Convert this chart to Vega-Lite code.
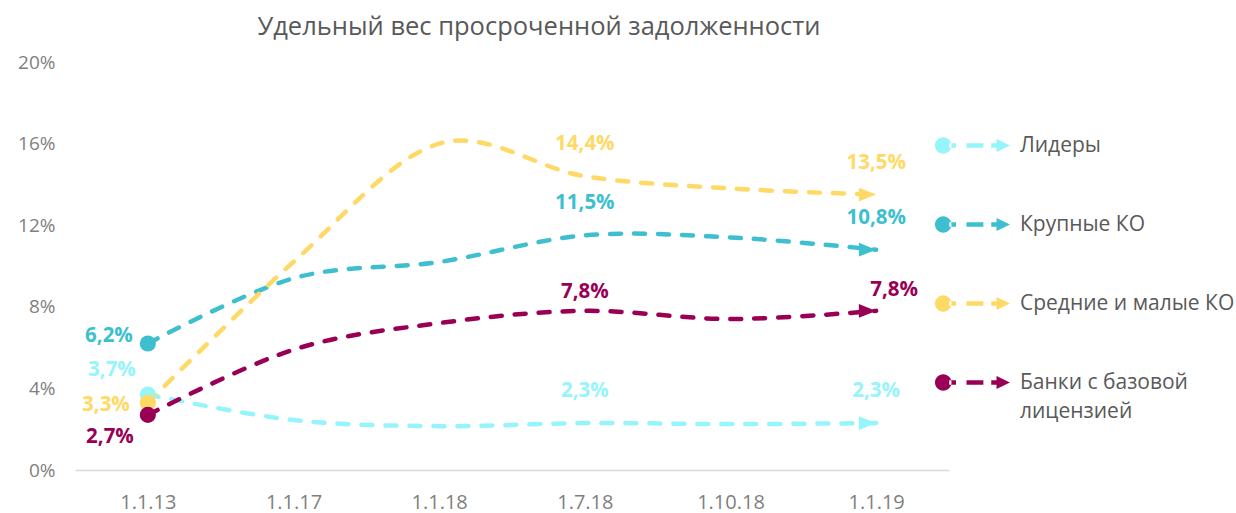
{
  "$schema": "https://vega.github.io/schema/vega-lite/v6.json",
  "autosize": {"type": "none"},
  "padding": {"left": 75, "top": 62, "right": 287, "bottom": 43},
  "width": 874,
  "height": 408,
  "background": "white",
  "config": {
    "view": {"stroke": null},
    "font": "Open Sans",
    "locale": {"number": {"decimal": ",", "thousands": " ", "grouping": [3], "currency": ["", ""]}}
  },
  "title": {
    "text": "Удельный вес просроченной задолженности",
    "fontSize": 25.5,
    "fontWeight": "normal",
    "color": "#595959",
    "font": "Open Sans",
    "anchor": "middle",
    "dx": 27,
    "offset": 13
  },
  "data": {
    "values": [
      {"date": "1.1.13", "series": "Лидеры", "value": 0.037},
      {"date": "1.1.17", "series": "Лидеры", "value": 0.0245},
      {"date": "1.1.18", "series": "Лидеры", "value": 0.0215},
      {"date": "1.7.18", "series": "Лидеры", "value": 0.023},
      {"date": "1.10.18", "series": "Лидеры", "value": 0.0225},
      {"date": "1.1.19", "series": "Лидеры", "value": 0.023},
      {"date": "1.1.13", "series": "Крупные КО", "value": 0.062},
      {"date": "1.1.17", "series": "Крупные КО", "value": 0.094},
      {"date": "1.1.18", "series": "Крупные КО", "value": 0.102},
      {"date": "1.7.18", "series": "Крупные КО", "value": 0.115},
      {"date": "1.10.18", "series": "Крупные КО", "value": 0.114},
      {"date": "1.1.19", "series": "Крупные КО", "value": 0.108},
      {"date": "1.1.13", "series": "Средние и малые КО", "value": 0.033},
      {"date": "1.1.17", "series": "Средние и малые КО", "value": 0.102},
      {"date": "1.1.18", "series": "Средние и малые КО", "value": 0.160},
      {"date": "1.7.18", "series": "Средние и малые КО", "value": 0.144},
      {"date": "1.10.18", "series": "Средние и малые КО", "value": 0.138},
      {"date": "1.1.19", "series": "Средние и малые КО", "value": 0.135},
      {"date": "1.1.13", "series": "Банки с базовой лицензией", "value": 0.027},
      {"date": "1.1.17", "series": "Банки с базовой лицензией", "value": 0.059},
      {"date": "1.1.18", "series": "Банки с базовой лицензией", "value": 0.072},
      {"date": "1.7.18", "series": "Банки с базовой лицензией", "value": 0.078},
      {"date": "1.10.18", "series": "Банки с базовой лицензией", "value": 0.074},
      {"date": "1.1.19", "series": "Банки с базовой лицензией", "value": 0.078}
    ]
  },
  "encoding": {
    "x": {
      "field": "date",
      "type": "ordinal",
      "sort": ["1.1.13", "1.1.17", "1.1.18", "1.7.18", "1.10.18", "1.1.19"],
      "scale": {"type": "point", "padding": 0.5},
      "axis": {
        "title": null,
        "labelAngle": 0,
        "labelFontSize": 20,
        "labelColor": "#7F7F7F",
        "labelFont": "Open Sans",
        "ticks": false,
        "labelPadding": 22,
        "domainColor": "#D9D9D9",
        "domainWidth": 1.5,
        "grid": false
      }
    },
    "y": {
      "field": "value",
      "type": "quantitative",
      "scale": {"domain": [0, 0.2], "nice": false},
      "axis": {
        "title": null,
        "values": [0, 0.04, 0.08, 0.12, 0.16, 0.2],
        "format": ".0%",
        "labelFontSize": 19,
        "labelColor": "#7F7F7F",
        "labelFont": "Open Sans",
        "ticks": false,
        "domain": false,
        "grid": false,
        "labelPadding": 20
      }
    },
    "color": {
      "field": "series",
      "type": "nominal",
      "scale": {
        "domain": ["Лидеры", "Крупные КО", "Средние и малые КО", "Банки с базовой лицензией"],
        "range": ["#96F5FA", "#3EBFCF", "#FFD966", "#990055"]
      },
      "legend": {
        "title": null,
        "orient": "none",
        "legendX": 860,
        "legendY": 46,
        "padding": 0,
        "rowPadding": 31,
        "symbolType": "M-1,0A0.22,0.22 0 1,0 -0.56,0A0.22,0.22 0 1,0 -1,0ZM-0.62,-0.06H-0.44V0.06H-0.62ZM-0.16,-0.06H0.29V0.06H-0.16ZM0.5,-0.06H0.66V0.06H0.5ZM0.64,-0.175L1,0L0.64,0.175Z",
        "symbolSize": 5625,
        "symbolStrokeWidth": 0,
        "symbolOpacity": 1,
        "labelFontSize": 21,
        "labelColor": "#595959",
        "labelFont": "Open Sans",
        "labelOffset": 10,
        "labelLimit": 300,
        "labelExpr": "datum.label == 'Банки с базовой лицензией' ? ['Банки с базовой', 'лицензией'] : datum.label",
        "encode": {
          "symbols": {"update": {"fill": {"scale": "color", "field": "value"}, "stroke": {"value": "transparent"}, "opacity": {"value": 1}}},
          "labels": {"update": {"lineHeight": {"value": 29}}}
        }
      }
    }
  },
  "layer": [
    {
      "mark": {"type": "line", "interpolate": "cardinal", "strokeWidth": 4.5, "strokeDash": [11, 13], "strokeCap": "round"}
    },
    {
      "transform": [{"filter": "datum.date == '1.1.13'"}],
      "mark": {"type": "point", "filled": true, "opacity": 1, "size": 260, "shape": "circle"}
    },
    {
      "transform": [{"filter": "datum.date == '1.1.19'"}],
      "mark": {"type": "point", "filled": true, "opacity": 1, "size": 300, "shape": "M-2,-0.8L0,0L-2,0.8Z"}
    },
    {
      "transform": [{"filter": "datum.date == '1.1.13' && datum.series == 'Крупные КО'"}],
      "mark": {"type": "text", "align": "right", "baseline": "middle", "dx": -15, "dy": -8, "fontSize": 20.5, "fontWeight": "bold"},
      "encoding": {"text": {"field": "value", "format": ".1%"}}
    },
    {
      "transform": [{"filter": "datum.date == '1.1.13' && datum.series == 'Лидеры'"}],
      "mark": {"type": "text", "align": "right", "baseline": "middle", "dx": -12, "dy": -25, "fontSize": 20.5, "fontWeight": "bold"},
      "encoding": {"text": {"field": "value", "format": ".1%"}}
    },
    {
      "transform": [{"filter": "datum.date == '1.1.13' && datum.series == 'Средние и малые КО'"}],
      "mark": {"type": "text", "align": "right", "baseline": "middle", "dx": -18, "dy": 2, "fontSize": 20.5, "fontWeight": "bold"},
      "encoding": {"text": {"field": "value", "format": ".1%"}}
    },
    {
      "transform": [{"filter": "datum.date == '1.1.13' && datum.series == 'Банки с базовой лицензией'"}],
      "mark": {"type": "text", "align": "right", "baseline": "middle", "dx": -14, "dy": 22, "fontSize": 20.5, "fontWeight": "bold"},
      "encoding": {"text": {"field": "value", "format": ".1%"}}
    },
    {
      "transform": [{"filter": "(datum.date == '1.7.18' || datum.date == '1.1.19') && datum.series != 'Банки с базовой лицензией'"}],
      "mark": {"type": "text", "align": "center", "baseline": "middle", "dy": -32, "fontSize": 20.5, "fontWeight": "bold"},
      "encoding": {"text": {"field": "value", "format": ".1%"}}
    },
    {
      "transform": [{"filter": "datum.date == '1.7.18' && datum.series == 'Банки с базовой лицензией'"}],
      "mark": {"type": "text", "align": "center", "baseline": "middle", "dy": -19, "fontSize": 20.5, "fontWeight": "bold"},
      "encoding": {"text": {"field": "value", "format": ".1%"}}
    },
    {
      "transform": [{"filter": "datum.date == '1.1.19' && datum.series == 'Банки с базовой лицензией'"}],
      "mark": {"type": "text", "align": "center", "baseline": "middle", "dx": 18, "dy": -21, "fontSize": 20.5, "fontWeight": "bold"},
      "encoding": {"text": {"field": "value", "format": ".1%"}}
    }
  ]
}
